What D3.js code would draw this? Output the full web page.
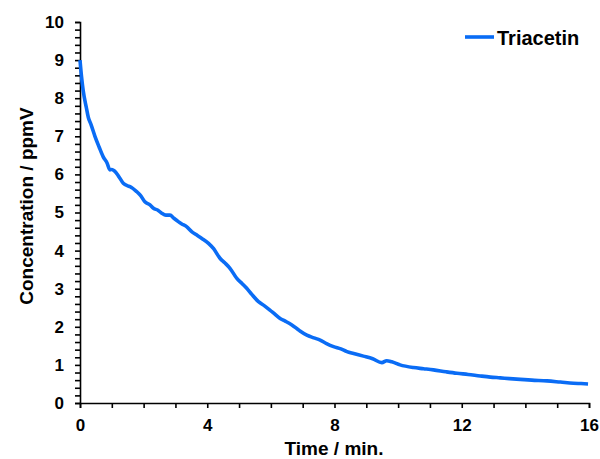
<!DOCTYPE html>
<html>
<head>
<meta charset="utf-8">
<script src="https://cdn.jsdelivr.net/npm/d3@7"></script>
<style>
  body { margin: 0; background: #fff; }
  svg { display: block; }
</style>
</head>
<body>
<div id="chart"></div>
<script>
const width = 600;
const height = 459;
const fontFamily = "Liberation Sans, Arial, sans-serif";

// Time (min.) and concentration (ppmV)
const time = [0, 0.05, 0.1, 0.2, 0.26, 0.35, 0.47, 0.6, 0.73, 0.85, 0.94, 1.0, 1.08, 1.2, 1.36, 1.5, 1.57, 1.78, 1.9, 2.04,
  2.2, 2.31, 2.45, 2.57, 2.7, 2.83, 2.95, 3.09, 3.2, 3.35, 3.51, 3.65, 3.83, 4.04, 4.2, 4.4, 4.55, 4.72, 4.93, 5.1,
  5.24, 5.4, 5.61, 5.8, 5.97, 6.1, 6.29, 6.45, 6.66, 6.9, 7.13, 7.35, 7.55, 7.75, 7.97, 8.2, 8.39, 8.6, 8.91, 9.2,
  9.49, 9.64, 9.8, 10.06, 10.48, 10.8, 11.11, 11.5, 11.85, 12.2, 12.58, 12.9, 13.21, 13.5, 13.84, 14.2, 14.68, 15.1, 15.51, 15.75, 15.97];
const triacetin = [9.0, 8.55, 8.2, 7.75, 7.5, 7.3, 7.0, 6.72, 6.46, 6.3, 6.12, 6.13, 6.09, 5.97, 5.77, 5.7, 5.68, 5.55, 5.45, 5.28,
  5.2, 5.11, 5.06, 4.98, 4.93, 4.93, 4.85, 4.76, 4.7, 4.63, 4.5, 4.42, 4.32, 4.19, 4.05, 3.8, 3.68, 3.53, 3.27, 3.13,
  3.01, 2.85, 2.66, 2.55, 2.44, 2.35, 2.22, 2.15, 2.05, 1.9, 1.78, 1.71, 1.65, 1.56, 1.48, 1.42, 1.35, 1.3, 1.23, 1.16,
  1.06, 1.11, 1.08, 1.0, 0.93, 0.9, 0.87, 0.82, 0.78, 0.75, 0.71, 0.68, 0.66, 0.64, 0.62, 0.6, 0.58, 0.55, 0.52, 0.51, 0.5];

const seriesName = "Triacetin";
const xTickLabels = [0, 4, 8, 12, 16];
const yTickLabels = [0, 1, 2, 3, 4, 5, 6, 7, 8, 9, 10];

const lineColor = "#0a6cf5";
const margin = { top: 22, right: 11, bottom: 56, left: 80 };

const svg = d3.select("#chart").append("svg")
  .attr("width", width)
  .attr("height", height);

const x = d3.scaleLinear().domain([0, 16]).range([margin.left, width - margin.right]);
const y = d3.scaleLinear().domain([0, 10]).range([height - margin.bottom, margin.top]);

// Y axis: minor ticks every 0.2, labels on integers
const yAxis = svg.append("g")
  .attr("transform", `translate(${margin.left},0)`)
  .call(d3.axisLeft(y).tickValues(d3.range(0, 10.001, 0.2)).tickSize(5).tickFormat(d => {
    const r = Math.round(d);
    return Math.abs(d - r) < 1e-6 && yTickLabels.includes(r) ? r : "";
  }).tickPadding(11));

// X axis: ticks every minute, labels every 4
const xAxis = svg.append("g")
  .attr("transform", `translate(0,${y(0)})`)
  .call(d3.axisBottom(x).tickValues(d3.range(0, 17, 1)).tickSize(5).tickFormat(d => xTickLabels.includes(d) ? d : "").tickPadding(11));

[yAxis, xAxis].forEach(ax => {
  ax.select(".domain").attr("stroke", "#000").attr("stroke-width", 1.6);
  ax.selectAll(".tick line").attr("stroke", "#000").attr("stroke-width", 1.6);
  ax.selectAll(".tick text")
    .attr("font-family", fontFamily)
    .attr("font-weight", "bold")
    .attr("font-size", "17px")
    .attr("fill", "#000");
});

// Data line
const line = d3.line()
  .x((d, i) => x(time[i]))
  .y(d => y(d))
  .curve(d3.curveMonotoneX);

svg.append("path")
  .datum(triacetin)
  .attr("fill", "none")
  .attr("stroke", lineColor)
  .attr("stroke-width", 3.6)
  .attr("stroke-linejoin", "round")
  .attr("d", line);

// Axis titles
svg.append("text")
  .attr("x", 334)
  .attr("y", 455)
  .attr("text-anchor", "middle")
  .attr("font-family", fontFamily)
  .attr("font-weight", "bold")
  .attr("font-size", "19px")
  .text("Time / min.");

svg.append("text")
  .attr("transform", "translate(33,206) rotate(-90)")
  .attr("text-anchor", "middle")
  .attr("font-family", fontFamily)
  .attr("font-weight", "bold")
  .attr("font-size", "19px")
  .text("Concentration / ppmV");

// Legend
const legend = svg.append("g");
legend.append("line")
  .attr("x1", 465).attr("x2", 494)
  .attr("y1", 37).attr("y2", 37)
  .attr("stroke", lineColor)
  .attr("stroke-width", 3.6);
legend.append("text")
  .attr("x", 497)
  .attr("y", 45)
  .attr("font-family", fontFamily)
  .attr("font-weight", "bold")
  .attr("font-size", "20px")
  .text(seriesName);
</script>
</body>
</html>
